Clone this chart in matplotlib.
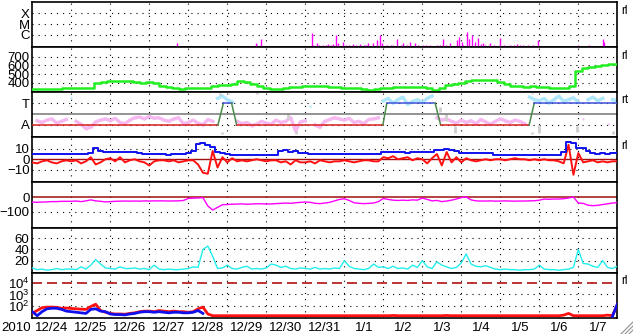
import numpy as np
import matplotlib
matplotlib.use("Agg")
import matplotlib.pyplot as plt
from matplotlib.lines import Line2D
from matplotlib.ticker import NullLocator, NullFormatter

plt.rcParams["font.family"] = ["Liberation Sans Narrow", "Liberation Sans", "DejaVu Sans"]
plt.rcParams["mathtext.fontset"] = "custom"
plt.rcParams["mathtext.rm"] = "Liberation Sans Narrow"
plt.rcParams["mathtext.it"] = "Liberation Sans Narrow"
plt.rcParams["mathtext.bf"] = "Liberation Sans Narrow"

# ---- data (time in days since 2010-12-24 00 UT) ----
DAYS = ["12/24", "12/25", "12/26", "12/27", "12/28", "12/29", "12/30", "12/31",
        "1/1", "1/2", "1/3", "1/4", "1/5", "1/6", "1/7"]
YEAR = "2010"

# x-ray flares (W/m2)
xr_t = [3.51, 3.57, 3.72, 3.77, 5.58, 5.73, 5.76, 5.86, 5.95, 6.05,
        7.17, 7.21, 7.29, 7.35, 7.45, 7.52, 7.58, 7.65, 7.71, 7.79, 7.85, 7.97,
        8.05, 8.12, 8.22, 8.30, 8.40, 8.50, 8.55, 8.62, 8.74, 8.83, 8.92, 8.96,
        9.09, 9.20, 9.25, 9.36, 9.45, 9.51, 9.60, 9.68, 9.81, 9.90, 10.03, 10.10,
        10.20, 10.37, 10.45, 10.54, 10.60, 10.71, 10.88, 10.95, 11.01, 11.05,
        11.14, 11.21, 11.27, 11.35, 11.44, 11.50, 11.56, 11.62, 11.74, 11.85,
        11.99, 12.10, 12.25, 12.35, 12.42, 12.50, 12.59, 12.70, 12.85, 12.97,
        13.10, 14.00, 14.28, 14.63, 14.66, 14.86]
xr_flux = [9.5e-8, 9.5e-8, 1.7e-7, 9.5e-8, 9.5e-8, 1.9e-7, 1.2e-7, 4.3e-7, 1.0e-7, 9.5e-8,
           1.4e-6, 1.2e-7, 1.7e-7, 1.1e-7, 1.2e-7, 1.3e-7, 1.4e-7, 1.1e-7, 1.4e-7, 1.0e-6, 1.7e-7, 2.4e-7,
           1.2e-7, 1.3e-7, 1.4e-7, 1.1e-7, 1.4e-7, 1.2e-7, 1.1e-7, 1.7e-7, 1.9e-7, 3.5e-7, 1.0e-6, 1.9e-7,
           1.2e-7, 1.3e-7, 1.1e-7, 4.0e-7, 1.2e-7, 1.7e-7, 1.3e-7, 2.4e-7, 1.9e-7, 1.2e-7, 1.2e-7, 1.1e-7,
           1.2e-7, 1.2e-7, 1.3e-7, 4.0e-7, 1.2e-7, 1.9e-7, 3.5e-7, 6.1e-7, 2.4e-7, 1.3e-7,
           1.8e-6, 4.0e-7, 1.0e-6, 2.4e-7, 4.9e-7, 1.4e-7, 1.7e-7, 1.3e-7, 1.7e-7, 1.2e-7,
           4.9e-7, 1.3e-7, 1.2e-7, 1.1e-7, 1.4e-7, 1.2e-7, 1.2e-7, 1.1e-7, 1.2e-7, 3.5e-7,
           1.0e-7, 1.2e-7, 1.2e-7, 4.0e-7, 2.4e-7, 9.5e-8]

# solar wind speed (km/s), every 4 h
speed = [330, 330, 330, 332, 335, 338,
         340, 342, 340, 338, 395, 410,
         423, 425, 420, 418, 405, 398,
         410, 395, 366, 355, 340, 332,
         338, 340, 340, 345, 360, 375,
         380, 390, 420, 410, 392, 360,
         338, 330, 333, 340, 350, 358,
         366, 366, 366, 362, 355, 348,
         340, 340, 338, 325, 320, 335,
         340, 345, 350, 352, 350, 352,
         355, 345, 315, 340, 375, 390,
         395, 425, 435, 435, 435, 430,
         405, 385, 370, 362, 358, 360,
         358, 350, 345, 340, 340, 360,
         540, 565, 580, 590, 605, 620,
         615]

# IMF sector: A = 90, T = 270
sec_t = [0, 4.76, 4.90, 5.11, 5.24, 8.99, 9.09, 10.33, 10.47, 12.74, 12.87, 15]
sec_phi = [90, 90, 270, 270, 90, 90, 270, 270, 90, 90, 270, 270]

# IMF phi angle (deg), every 3 h
phi = [300, 125, 110, 130, 140, 105, 120, 135,
       310, 120, 95, 60, 70, 115, 130, 140,
       125, 145, 110, 100, 130, 150, 155, 140,
       160, 145, 150, 130, 120, 140, 150, 100,
       110, 130, 105, 90, 135, 120, 310, 330,
       300, 280, 120, 100, 110, 85, 95, 120,
       105, 95, 130, 110, 120, 150, 40, 115,
       125, 250, 90, 70, 120, 135, 150, 140,
       130, 145, 110, 120, 100, 135, 140, 150,
       290, 310, 270, 300, 320, 260, 285, 300,
       275, 310, 330, 150, 130, 140, 120, 105,
       130, 110, 125, 100, 135, 115, 95, 120,
       140, 125, 110, 130, 120, 100, 320, 300,
       290, 310, 270, 300, 330, 285, 300, 315,
       280, 140, 300, 320, 290, 310, 100, 300,
       290]
# off-sector phi samples
gray_t = [4.82, 4.87, 5.02, 5.75, 6.56, 6.77, 10.45, 10.60, 10.85, 12.80, 12.82, 13.00, 13.97, 14.90]
gray_lo = [340, 15, 345, 350, 140, 15, 195, 120, 20, 345, 15, 20, 30, 15]
gray_hi = [355, 30, 358, 360, 185, 40, 235, 190, 80, 358, 30, 90, 80, 40]

# IMF Bt and Bz (nT), every 3 h
bt = [5, 5, 5, 5, 5, 5, 5, 5,
      5, 5, 5, 5, 6, 10.5, 8, 7.5,
      7.5, 7.5, 7, 7.5, 7, 7, 6.5, 5,
      5, 5, 5, 5, 4.5, 5, 5, 5,
      6, 8, 15, 15.5, 14, 12, 7, 6,
      5, 4.5, 4.2, 4.2, 4, 4.2, 4.2, 4,
      4.2, 4.5, 4.2, 8, 8.5, 7.5, 8, 6,
      6, 5.5, 5.5, 5.2, 5.2, 5.2, 5, 5.2,
      5.2, 5.2, 5.5, 5, 5.2, 5.2, 5.2, 5.2,
      7, 7.5, 7, 7, 7, 6.5, 7, 7.5,
      7, 7, 7.5, 9, 9, 9.5, 9, 8,
      6.5, 6.4, 6.5, 6.4, 6, 6.2, 6.4, 4.2,
      4.2, 4.2, 4.5, 4.2, 4, 4.2, 4.2, 4.2,
      4.2, 4, 4.2, 4, 4.2, 7, 17, 16,
      11, 10.5, 8, 6.5, 5.5, 6, 5.5, 6,
      6]
bz = [-3, -4, -2, -1, -3, -4, -2, -1,
      -2, -1, -4, -2, 2, -5, -3, 0,
      1, -2, 2, -3, -1, 0, -2, -3,
      -6, -2, -1, -1, -2, -1, -3, -2,
      -1, -1, -5, -13, -14, 8, -8, 2,
      -3, 1, -2, -1, -2, -1, 0, -1,
      -2, -1, -1, -3, -2, -5, -1, -3,
      -3, -2, -4, -1, -2, -3, -2, -2,
      -1, -2, -3, -2, -1, -1, -2, -2,
      2, 1, 3, 0, 1, 2, -1, 1,
      0, -4, 1, 5, -6, 7, -3, 2,
      -3, 1, -1, -2, -1, 0, -1, 0,
      0, -1, 0, 1, 0, 0, -1, 0,
      -1, 0, -1, -1, -2, -4, 14, -15,
      6, -3, -2, -1, -3, -2, -3, -2,
      -2]

# Dst (nT), every 3 h
dst = [-33, -35, -33, -32, -30, -30, -28, -28,
       -28, -26, -30, -25, -18, -25, -28, -32,
       -30, -28, -27, -26, -27, -26, -27, -25,
       -26, -25, -25, -25, -26, -25, -25, -22,
       -8, -6, -5, -2, -60, -88, -70, -52,
       -50, -48, -47, -46, -48, -47, -45, -45,
       -47, -46, -44, -42, -40, -42, -38, -35,
       -33, -35, -42, -44, -40, -35, -25, -15,
       -10, -22, -38, -42, -44, -42, -40, -30,
       -8, -15, -20, -22, -20, -22, -18, -20,
       -5, -15, -25, -22, -30, -26, -20, -12,
       -2, 2, -18, -25, -26, -26, -25, -27,
       -26, -25, -26, -27, -26, -26, -25, -24,
       -20, -12, -14, -12, -12, -10, -5, 2,
       -40, -42, -55, -58, -56, -50, -45, -40,
       -37]

# cyan index, every 3 h
cyan = [7, 4, 5, 3, 4, 6, 4, 5,
        5, 4, 9, 5, 12, 22, 14, 7,
        6, 5, 9, 6, 6, 7, 5, 6,
        4, 12, 5, 4, 5, 4, 4, 5,
        6, 9, 8, 40, 46, 28, 6, 7,
        12, 6, 5, 8, 10, 5, 6, 5,
        7, 14, 12, 8, 10, 6, 5, 7,
        6, 5, 8, 5, 6, 5, 7, 6,
        20, 10, 6, 5, 4, 6, 14, 8,
        9, 6, 10, 6, 7, 5, 12, 8,
        20, 9, 6, 18, 12, 9, 6, 8,
        16, 32, 14, 10, 9, 11, 8, 5,
        4, 5, 4, 4, 3, 4, 4, 5,
        12, 5, 4, 4, 3, 4, 5, 8,
        40, 15, 14, 10, 8, 20, 8, 6,
        10]

# particle flux, log10, every 3 h
nan = np.nan
flux_red = [1.37, 1.6, 1.85, 1.9, 1.9, 1.88, 1.8, 1.82,
            1.78, 1.75, 1.72, 1.7, 1.95, 2.15, 1.6, 1.45,
            1.35, 1.3, 1.3, 1.28, 1.35, 1.4, 1.5, 1.55,
            1.55, 1.5, 1.6, 1.55, 1.5, 1.55, 1.5, 1.5,
            1.45, 1.5, 1.75, 1.9, 1.3, 1.15, 1.15, 1.15,
            1.15, 1.15, 1.15, 1.15, 1.15, 1.15, 1.15, 1.15,
            1.15, 1.15, 1.15, 1.15, 1.15, 1.15, 1.15, 1.15,
            1.15, 1.15, 1.15, 1.15, 1.15, 1.15, 1.15, 1.15,
            1.15, 1.15, 1.15, 1.15, 1.15, 1.15, 1.15, 1.15,
            1.15, 1.15, 1.17, 1.15, 1.15, 1.15, 1.15, 1.15,
            1.15, 1.15, 1.15, 1.15, 1.15, 1.17, 1.15, 1.15,
            1.15, 1.15, 1.15, 1.15, 1.15, 1.15, 1.15, 1.15,
            1.15, 1.15, 1.15, 1.15, 1.15, 1.15, 1.15, 1.15,
            1.15, 1.15, 1.15, 1.15, 1.15, 1.2, 1.35, 1.15,
            1.15, 1.15, 1.15, 1.15, 1.15, 1.15, 1.2, 1.15,
            2.1]
flux_blue = [1.5, 1.15, 1.5, 1.75, 1.8, 1.8, 1.7, 1.55,
             1.5, 1.45, 1.4, 1.35, 1.7, 1.75, 1.55, 1.5,
             1.3, 1.25, 1.25, 1.22, 1.3, 1.35, 1.45, 1.5,
             1.5, 1.45, 1.5, 1.45, 1.4, 1.45, 1.45, 1.4,
             1.4, 1.45, 1.6, 1.35] + [nan] * 83 + [1.1, 2.15]

# ---- layout (pixels of the 633x334 picture) ----
W, H = 633, 334
X0, X1 = 32.3, 617.3
TOP, PH = 2.0, 45.11
DOT = (0, (1, 4.5))
FS = 9.5
t3 = np.arange(len(bt)) / 8.0
t4 = np.arange(len(speed)) / 6.0

fig = plt.figure(figsize=(W / 100, H / 100), dpi=100)
axes = []
for k in range(7):
    top = TOP + k * PH
    ax = fig.add_axes([X0 / W, 1 - (top + PH) / H, (X1 - X0) / W, PH / H])
    ax.set_xlim(0, 15)
    for s in ax.spines.values():
        s.set_linewidth(1.2)
        s.set_color("black")
    ax.tick_params(length=0, labelsize=FS, pad=2)
    ax.set_xticks([])
    for d in range(1, 15):
        ax.axvline(d, color="black", ls=DOT, lw=0.8, zorder=1)
    axes.append(ax)


def hgrid(ax, vals):
    for v in vals:
        ax.axhline(v, color="black", ls=DOT, lw=0.8, zorder=1)


# 1: x-ray
ax = axes[0]
ax.set_yscale("log")
lo = 10 ** -7.12
ax.set_ylim(lo, 10 ** -2.96)
ax.yaxis.set_minor_locator(NullLocator())
ax.yaxis.set_minor_formatter(NullFormatter())
ax.vlines(xr_t, lo, xr_flux, color="#ff00ff", lw=1.0, zorder=3)
ax.set_yticks([1e-6, 1e-5, 1e-4], ["C", "M", "X"])
hgrid(ax, [1e-6, 1e-5, 1e-4])

# 2: solar wind speed
ax = axes[1]
ax.set_ylim(294, 808)
ax.plot(t4, speed, color="#22ee22", lw=1.8, drawstyle="steps-mid", zorder=3)
ax.set_yticks([400, 500, 600, 700])
hgrid(ax, [400, 500, 600, 700])

# 3: IMF sector
ax = axes[2]
ax.set_ylim(-13, 361)
ph = np.array(phi, dtype=float)
ax.plot(t3, np.where(ph < 180, ph, np.nan), color="#f5b8f0", lw=2.4,
        marker="s", ms=2, mec="none", zorder=2)
ax.plot(t3, np.where(ph >= 180, ph, np.nan), color="#aee6fa", lw=2.4,
        marker="s", ms=2, mec="none", zorder=2)
ax.vlines(gray_t, gray_lo, gray_hi, color="#cfcfcf", lw=2.0, zorder=2)
ax.axhline(180, color="#808080", lw=1.2, zorder=2)
hgrid(ax, [90, 270])
for i in range(len(sec_t) - 1):
    a, b = sec_phi[i], sec_phi[i + 1]
    c = "#d82020" if a == b == 90 else ("#4050d8" if a == b == 270 else "#4a8a4a")
    ax.plot(sec_t[i:i + 2], sec_phi[i:i + 2], color=c, lw=1.1, zorder=4)
ax.set_yticks([90, 270], ["A", "T"])

# 4: IMF Bt / Bz
ax = axes[3]
ax.set_ylim(-22.4, 21.2)
ax.axhline(0, color="#a01010", lw=1.0, zorder=2)
ax.plot(t3, bz, color="#ff1010", lw=1.4, zorder=3)
ax.plot(t3, bt, color="#1010ee", lw=1.4, drawstyle="steps-mid", zorder=4)
ax.set_yticks([-10, 0, 10])
hgrid(ax, [-10, 10])

# 5: Dst
ax = axes[4]
ax.set_ylim(-210, 103)
ax.axhline(0, color="#a01010", lw=1.1, zorder=2)
ax.plot(t3, dst, color="#ff00ff", lw=1.0, zorder=3)
ax.set_yticks([-100, 0])
hgrid(ax, [-100])

# 6: cyan index
ax = axes[5]
ax.set_ylim(-1.4, 79.1)
ax.plot(t3, cyan, color="#22eeee", lw=1.0, zorder=3)
ax.set_yticks([20, 40, 60])
hgrid(ax, [20, 40, 60])

# 7: particle flux
ax = axes[6]
ax.set_yscale("log")
ax.set_ylim(10 ** 0.97, 10 ** 4.9)
ax.yaxis.set_minor_locator(NullLocator())
ax.yaxis.set_minor_formatter(NullFormatter())
ax.axhline(1e4, color="#b01010", lw=1.2, ls=(0, (6, 3)), zorder=2)
ax.plot(t3, 10 ** np.array(flux_red), color="#ff1010", lw=2.0, zorder=3)
ax.plot(t3, 10 ** np.array(flux_blue, dtype=float), color="#1010ee", lw=2.0, zorder=4)
ax.set_yticks([1e2, 1e3, 1e4], [r"$\mathregular{10^2}$", r"$\mathregular{10^3}$",
                                r"$\mathregular{10^4}$"])
hgrid(ax, [1e2, 1e3])
ax.set_xticks(np.arange(len(DAYS)) + 0.5, DAYS)
ax.tick_params(axis="x", length=0, pad=3, labelsize=FS)

fig.text(16 / W, 1 - 328 / H, YEAR, fontsize=FS, ha="center", va="center")
for y, s in [(11, "rl"), (56, "rl"), (100, "rt"), (146, "rl"), (281, "rl")]:
    fig.text(621 / W, 1 - y / H, s, fontsize=8.5, ha="left", va="center")

# window resize grip
for o in (4, 8, 12):
    fig.add_artist(Line2D([(W - o) / W, 1.0], [0.0, o / H], color="#909090", lw=0.8))

fig.savefig("out.png", dpi=100)
